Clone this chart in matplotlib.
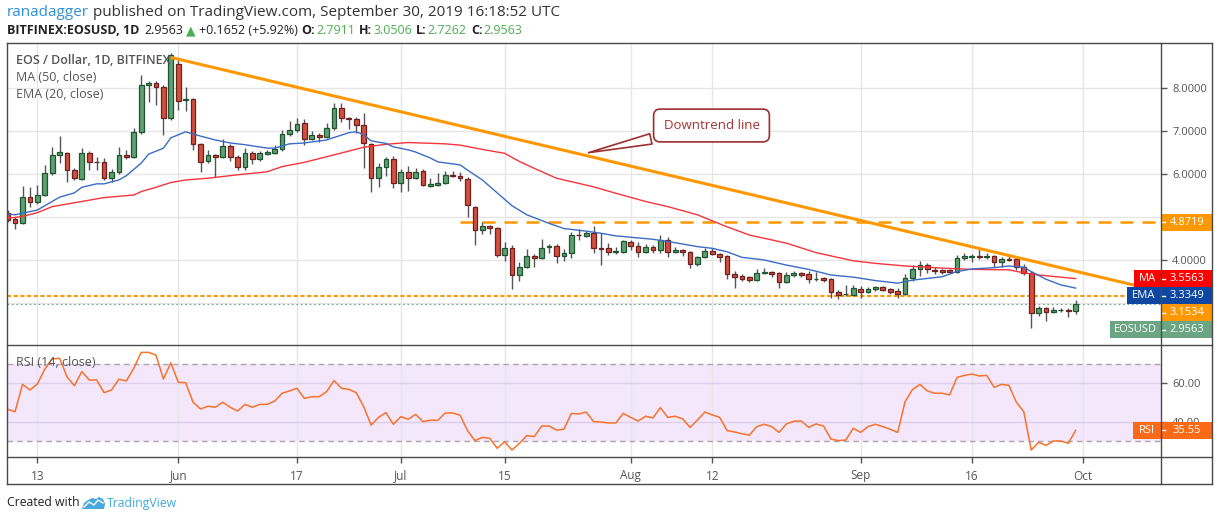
import matplotlib
matplotlib.use("Agg")
import matplotlib.pyplot as plt
import matplotlib.dates as mdates
import matplotlib.patches as patches
import matplotlib.transforms as mtransforms
from matplotlib.lines import Line2D
import numpy as np
import pandas as pd

plt.rcParams['font.family'] = ['Open Sans', 'DejaVu Sans']

W, H = 1218, 521

# --------------------------------------------------------------
# 1. Data (BITFINEX:EOSUSD, daily)
# --------------------------------------------------------------
dates = pd.date_range("2019-05-09", "2019-09-30", freq="D")

opens = [5.08, 4.94, 4.85, 5.45, 5.34, 5.50, 6.01, 6.43, 6.48, 6.08,
         5.87, 6.48, 6.27, 6.27, 5.90, 6.04, 6.43, 6.38, 6.97, 8.06,
         8.10, 8.01, 7.29, 8.55, 7.70, 7.73, 6.69, 6.29, 6.43, 6.38,
         6.64, 6.38, 6.15, 6.48, 6.34, 6.46, 6.48, 6.57, 6.92, 7.01,
         7.17, 6.80, 6.89, 6.85, 7.05, 7.52, 7.29, 7.27, 7.13, 6.69,
         5.90, 6.15, 6.34, 5.78, 6.03, 5.90, 6.06, 5.72, 5.73, 5.78,
         5.96, 5.95, 5.87, 5.22, 4.69, 4.78, 4.73, 4.11, 4.27, 3.64,
         3.83, 4.08, 4.03, 4.29, 4.31, 4.08, 4.15, 4.58, 4.55, 4.62,
         4.27, 4.27, 4.18, 4.18, 4.41, 4.32, 4.17, 4.29, 4.22, 4.45,
         4.18, 4.22, 4.17, 3.89, 4.06, 4.20, 4.13, 4.08, 3.66, 3.62,
         3.59, 3.52, 3.69, 3.71, 3.69, 3.48, 3.64, 3.69, 3.66, 3.54,
         3.57, 3.55, 3.24, 3.19, 3.17, 3.31, 3.24, 3.31, 3.36, 3.31,
         3.27, 3.20, 3.57, 3.78, 3.87, 3.76, 3.75, 3.75, 3.71, 4.03,
         4.07, 4.09, 4.07, 4.08, 3.94, 4.01, 4.01, 3.83, 3.69, 2.75,
         2.87, 2.78, 2.82, 2.83, 2.7911]

highs = [5.15, 4.98, 5.71, 5.69, 5.73, 6.20, 6.62, 6.87, 6.50, 6.12,
         6.59, 6.52, 6.38, 6.36, 6.10, 6.62, 6.55, 7.06, 8.29, 8.15,
         8.14, 8.05, 8.80, 8.64, 8.01, 7.75, 6.72, 6.55, 6.46, 6.80,
         6.68, 6.42, 6.59, 6.53, 6.53, 6.55, 6.66, 7.01, 7.22, 7.29,
         7.27, 6.99, 6.95, 7.18, 7.64, 7.64, 7.31, 7.31, 7.40, 6.72,
         6.24, 6.38, 6.41, 6.10, 6.17, 6.13, 6.10, 5.89, 6.01, 6.06,
         6.06, 6.03, 5.92, 5.25, 4.87, 4.80, 4.75, 4.41, 4.34, 3.94,
         4.24, 4.13, 4.48, 4.36, 4.37, 4.24, 4.64, 4.71, 4.66, 4.78,
         4.62, 4.38, 4.30, 4.45, 4.45, 4.40, 4.36, 4.33, 4.57, 4.52,
         4.29, 4.25, 4.20, 4.08, 4.27, 4.27, 4.15, 4.10, 3.73, 3.66,
         3.62, 3.78, 3.80, 3.73, 3.71, 3.71, 3.73, 3.70, 3.73, 3.71,
         3.59, 3.57, 3.29, 3.41, 3.41, 3.38, 3.36, 3.38, 3.38, 3.33,
         3.33, 3.66, 3.87, 3.96, 3.91, 3.83, 3.79, 3.77, 4.10, 4.15,
         4.13, 4.24, 4.16, 4.10, 4.05, 4.08, 4.04, 3.90, 3.73, 2.92,
         2.89, 2.89, 2.88, 2.87, 3.0506]

lows = [4.88, 4.71, 4.82, 5.22, 5.30, 5.47, 5.97, 6.24, 5.80, 5.85,
        5.84, 6.08, 6.08, 5.86, 5.80, 6.00, 6.33, 6.35, 6.92, 7.66,
        7.59, 6.90, 7.24, 7.48, 7.45, 6.55, 6.04, 6.25, 5.92, 6.35,
        6.30, 6.08, 6.08, 6.22, 6.30, 6.42, 6.45, 6.53, 6.88, 6.97,
        6.66, 6.78, 6.73, 6.82, 7.02, 7.20, 7.04, 6.94, 6.13, 5.57,
        5.69, 5.94, 5.66, 5.57, 5.59, 5.87, 5.70, 5.68, 5.70, 5.75,
        5.92, 5.83, 4.99, 4.34, 4.59, 4.59, 4.06, 3.97, 3.31, 3.50,
        3.80, 3.83, 4.01, 4.15, 3.92, 3.97, 4.03, 4.45, 4.52, 4.15,
        3.87, 4.10, 4.12, 4.15, 4.22, 4.06, 4.15, 4.15, 4.15, 4.06,
        4.15, 4.08, 3.80, 3.85, 4.04, 4.10, 3.94, 3.55, 3.33, 3.50,
        3.48, 3.50, 3.66, 3.59, 3.34, 3.45, 3.60, 3.60, 3.45, 3.50,
        3.48, 3.10, 3.08, 3.15, 3.16, 3.10, 3.22, 3.27, 3.27, 3.20,
        3.10, 3.18, 3.50, 3.62, 3.69, 3.66, 3.67, 3.69, 3.69, 3.98,
        3.94, 4.02, 4.02, 3.83, 3.83, 3.96, 3.76, 3.64, 2.41, 2.68,
        2.57, 2.76, 2.78, 2.66, 2.7262]

closes = [4.92, 4.85, 5.45, 5.34, 5.50, 6.01, 6.43, 6.50, 6.08, 5.90,
          6.48, 6.27, 6.26, 5.90, 6.04, 6.43, 6.38, 6.97, 8.06, 8.10,
          8.01, 7.29, 8.76, 7.69, 7.73, 6.69, 6.27, 6.43, 6.38, 6.64,
          6.38, 6.15, 6.48, 6.34, 6.48, 6.49, 6.57, 6.92, 7.01, 7.15,
          6.80, 6.89, 6.85, 7.05, 7.52, 7.29, 7.27, 7.13, 6.71, 5.90,
          6.15, 6.34, 5.78, 6.03, 5.90, 6.03, 5.73, 5.76, 5.78, 5.97,
          5.95, 5.90, 5.27, 4.69, 4.78, 4.73, 4.11, 4.27, 3.64, 3.83,
          4.08, 4.03, 4.27, 4.31, 4.08, 4.15, 4.57, 4.56, 4.62, 4.26,
          4.25, 4.18, 4.20, 4.43, 4.32, 4.17, 4.29, 4.22, 4.45, 4.18,
          4.22, 4.17, 3.89, 4.06, 4.20, 4.13, 4.06, 3.66, 3.59, 3.55,
          3.52, 3.69, 3.71, 3.66, 3.48, 3.64, 3.68, 3.64, 3.55, 3.55,
          3.52, 3.24, 3.17, 3.20, 3.34, 3.24, 3.31, 3.36, 3.29, 3.24,
          3.20, 3.57, 3.78, 3.87, 3.78, 3.73, 3.71, 3.71, 4.03, 4.08,
          4.08, 4.07, 4.09, 3.94, 4.01, 3.99, 3.83, 3.69, 2.75, 2.87,
          2.78, 2.83, 2.83, 2.7911, 2.9563]

# MA(50) and EMA(20) read at points along the lines (days after May 9)
ma_days = [0, 2, 4, 6, 9, 11, 13, 17, 18, 20, 22, 24, 27, 31, 35, 37, 40, 43,
           48, 51, 54, 59, 61, 64, 67, 69, 71, 74, 77, 79, 82, 86, 89, 93, 97,
           100, 105, 109, 114, 117, 121, 126, 130, 135, 137, 139, 144]
ma_vals = [4.96, 5.00, 5.09, 5.23, 5.32, 5.38, 5.44, 5.50, 5.58, 5.68, 5.79,
           5.85, 5.89, 5.97, 6.04, 6.16, 6.26, 6.39, 6.61, 6.68, 6.72, 6.69,
           6.66, 6.56, 6.47, 6.28, 6.12, 5.89, 5.77, 5.69, 5.54, 5.35, 5.23,
           5.04, 4.76, 4.57, 4.38, 4.16, 3.97, 3.91, 3.85, 3.80, 3.77, 3.76,
           3.69, 3.64, 3.5563]

ema_days = [0, 1, 4, 5, 7, 9, 10, 12, 13, 15, 16, 18, 19, 21, 22, 24, 26, 28,
            30, 32, 35, 36, 38, 40, 43, 46, 47, 48, 49, 51, 52, 54, 55, 57, 58,
            61, 62, 64, 66, 68, 70, 73, 75, 78, 80, 82, 87, 89, 93, 95, 97, 99,
            102, 105, 108, 111, 114, 117, 120, 122, 126, 128, 130, 133, 135,
            137, 138, 140, 142, 144]
ema_vals = [5.06, 5.04, 5.15, 5.25, 5.45, 5.55, 5.68, 5.76, 5.76, 5.85, 5.95,
            6.24, 6.45, 6.59, 6.83, 6.97, 6.87, 6.78, 6.71, 6.67, 6.59, 6.59,
            6.69, 6.71, 6.78, 6.95, 6.97, 6.90, 6.76, 6.70, 6.62, 6.55, 6.50,
            6.36, 6.27, 6.20, 6.08, 5.85, 5.55, 5.25, 5.04, 4.84, 4.72, 4.66,
            4.61, 4.55, 4.47, 4.42, 4.30, 4.26, 4.18, 4.05, 3.99, 3.87, 3.77,
            3.64, 3.59, 3.51, 3.45, 3.52, 3.60, 3.72, 3.78, 3.81, 3.85, 3.82,
            3.72, 3.54, 3.41, 3.3349]

rsi = [46.5, 45.3, 59.5, 56.6, 59.7, 67.4, 72.8, 73.1, 63.5, 58.8,
       66.2, 61.8, 61.8, 55.2, 56.6, 62.2, 61.3, 67.9, 76.2, 76.2,
       74.8, 62.3, 70.8, 60.6, 60.4, 50.2, 46.7, 48.1, 47.6, 50.2,
       47.6, 45.6, 49.1, 47.6, 49.1, 49.1, 50.8, 54.9, 56.1, 57.5,
       52.2, 53.1, 53.1, 55.7, 61.5, 57.5, 56.9, 55.2, 47.9, 38.3,
       42.3, 44.8, 38.7, 42.7, 41.3, 43.9, 40.1, 40.8, 40.8, 44.6,
       44.6, 43.4, 35.4, 30.2, 31.9, 31.4, 26.2, 29.6, 25.3, 28.8,
       32.8, 32.3, 37.8, 37.8, 35.7, 36.1, 44.4, 44.1, 45.1, 40.1,
       39.9, 39.4, 39.4, 44.4, 42.3, 40.4, 42.9, 42.0, 47.4, 42.3,
       42.9, 41.6, 37.1, 40.9, 45.1, 43.6, 42.3, 35.4, 34.7, 33.8,
       33.0, 37.5, 38.7, 37.5, 34.5, 38.9, 40.3, 40.4, 37.1, 38.9,
       37.8, 31.0, 30.2, 30.5, 36.6, 34.5, 37.5, 38.7, 37.5, 36.1,
       34.5, 50.5, 56.9, 59.5, 56.1, 54.9, 54.9, 54.0, 63.2, 64.2,
       64.9, 63.9, 64.2, 58.0, 59.5, 59.0, 50.2, 45.3, 25.3, 29.3,
       27.7, 30.0, 30.0, 28.8, 35.55]

trend_dates = ["2019-05-31", "2019-10-08"]
trend_prices = [8.70, 3.40]
resist_level = 4.8719
resist_from = "2019-07-09"
support_level = 3.1534
last_price = 2.9563
last_ma = 3.5563
last_ema = 3.3349
last_rsi = 35.55

tick_dates = ["2019-05-13", "2019-06-01", "2019-06-17", "2019-07-01", "2019-07-15",
              "2019-08-01", "2019-08-12", "2019-09-01", "2019-09-16", "2019-10-01"]
tick_labels = ["13", "Jun", "17", "Jul", "15", "Aug", "12", "Sep", "16", "Oct"]

# --------------------------------------------------------------
# 2. Figure layout (pixel helpers)
# --------------------------------------------------------------
def fx(px):
    return px / W


def fy(py):
    return 1 - py / H


fig = plt.figure(figsize=(W / 100, H / 100), dpi=100)
fig.patch.set_facecolor("white")

ax_p = fig.add_axes([fx(7), fy(345.3), fx(1161) - fx(7), fy(43) - fy(345.3)])
ax_r = fig.add_axes([fx(7), fy(457), fx(1161) - fx(7), fy(345.3) - fy(457)], sharex=ax_p)

x = mdates.date2num(dates)
xlim = (x[0] - 0.09, x[0] + 155.5)
tick_x = mdates.date2num(pd.to_datetime(tick_dates))

# --------------------------------------------------------------
# 3. Price panel
# --------------------------------------------------------------
o = np.array(opens)
hi = np.array(highs)
lo = np.array(lows)
c = np.array(closes)
up = c >= o
body_lo = np.minimum(o, c)
body_h = np.maximum(np.abs(c - o), 0.012)

ax_p.vlines(x, lo, hi, colors="#555555", lw=1, zorder=3)
ax_p.bar(x, body_h, bottom=body_lo, width=0.64,
         color=np.where(up, "#5f9f70", "#d24f3c"),
         edgecolor=np.where(up, "#1f5432", "#6e1f1f"),
         linewidth=0.9, zorder=4)

ax_p.plot(x[0] + np.array(ma_days), ma_vals, color="#f5353b", lw=1.0, zorder=5)
ax_p.plot(x[0] + np.array(ema_days), ema_vals, color="#3b6cc4", lw=1.0, zorder=5)

ax_p.plot(mdates.date2num(pd.to_datetime(trend_dates)), trend_prices,
          color="#ff9800", lw=2.2, solid_capstyle="butt", zorder=6)
ax_p.plot([mdates.date2num(pd.Timestamp(resist_from)), xlim[1] - 0.4],
          [resist_level, resist_level], color="#ff9800", lw=1.8,
          ls=(0, (5.2, 3.6)), zorder=2)
ax_p.axhline(support_level, color="#ff9800", lw=1.5, ls=(0, (2, 1.2)), zorder=2)
ax_p.axhline(last_price, color="#6ba583", lw=0.8, ls=(0, (1.5, 2.5)), zorder=2)

ax_p.set_xlim(xlim)
ax_p.set_ylim(2.005, 9.035)
ax_p.yaxis.tick_right()
ax_p.set_yticks([3, 4, 5, 6, 7, 8])
ax_p.set_yticklabels(["", "4.0000", "", "6.0000", "7.0000", "8.0000"])
ax_p.tick_params(axis="y", length=4, width=1, color="#555555",
                 labelsize=8, labelcolor="#555555", pad=4)
ax_p.set_xticks(tick_x)
ax_p.tick_params(axis="x", length=0, labelbottom=False)
ax_p.grid(True, color="#e6e6e6", lw=1)
ax_p.set_axisbelow(True)
for s in ax_p.spines.values():
    s.set_visible(False)

# callout
ax_p.annotate("Downtrend line", xy=(585.7, H - 153.3), xycoords="figure pixels",
              xytext=(711.5, H - 125.5), textcoords="figure pixels",
              ha="center", va="center", fontsize=9.5, color="#a83232",
              bbox=dict(boxstyle="round,pad=0.75,rounding_size=0.5",
                        fc="white", ec="#9c2f2f", lw=1.2),
              arrowprops=dict(arrowstyle="wedge,tail_width=0.8,shrink_factor=0.5",
                              fc="white", ec="#9c2f2f", lw=1.2),
              zorder=8)

# --------------------------------------------------------------
# 4. RSI panel
# --------------------------------------------------------------
ax_r.axhspan(30, 70, color="#f4e7fc", lw=0, zorder=0)
ax_r.axhline(70, color="#a8a2ae", lw=1, ls=(0, (4, 3)), zorder=1)
ax_r.axhline(30, color="#a8a2ae", lw=1, ls=(0, (4, 3)), zorder=1)
ax_r.plot(x, rsi, color="#f7722a", lw=1.1, zorder=3)
ax_r.set_ylim(21.65, 79.9)
ax_r.yaxis.tick_right()
ax_r.set_yticks([40, 60])
ax_r.set_yticklabels(["40.00", "60.00"])
ax_r.tick_params(axis="y", length=4, width=1, color="#555555",
                 labelsize=8, labelcolor="#555555", pad=4)
ax_r.set_xticks(tick_x)
ax_r.set_xticklabels(tick_labels)
ax_r.tick_params(axis="x", length=4, width=1, color="#555555",
                 labelsize=8.5, labelcolor="#555555", pad=5)
ax_r.xaxis.grid(True, color="#e6e6e6", lw=1)
ax_r.yaxis.grid(True, color="#dccfea", lw=1)
ax_r.set_axisbelow(True)
for s in ax_r.spines.values():
    s.set_visible(False)

# --------------------------------------------------------------
# 5. Frame lines
# --------------------------------------------------------------
frame = "#4a4a4a"
for (xa, xb, ya, yb) in [(7, 1212, 43, 43), (7, 1212, 484, 484), (7, 7, 43, 484),
                         (1212, 1212, 43, 484), (7, 1212, 345.3, 345.3),
                         (7, 1212, 457, 457), (1161, 1161, 43, 484)]:
    fig.add_artist(Line2D([fx(xa), fx(xb)], [fy(ya), fy(yb)],
                          transform=fig.transFigure, color=frame, lw=1))


# --------------------------------------------------------------
# 6. Price-scale labels
# --------------------------------------------------------------
def right_box(ax, yc, hh, text, color, tag=None, tag_left=None):
    tr = mtransforms.blended_transform_factory(fig.transFigure, ax.transData)
    ax.add_patch(patches.Rectangle((fx(1161), yc - hh / 2), fx(1212) - fx(1161), hh,
                                   transform=tr, facecolor=color, edgecolor="none",
                                   clip_on=False, zorder=10))
    ax.text(fx(1187), yc, text, transform=tr, ha="center", va="center",
            color="white", fontsize=8, zorder=11, clip_on=False)
    ax.add_line(Line2D([fx(1161), fx(1165)], [yc, yc], transform=tr,
                       color="white", lw=1, zorder=11, clip_on=False))
    if tag:
        ax.add_patch(patches.Rectangle((fx(tag_left), yc - hh / 2),
                                       fx(1161) - fx(tag_left), hh, transform=tr,
                                       facecolor=color, edgecolor="none",
                                       clip_on=False, zorder=10))
        ax.text((fx(tag_left) + fx(1161)) / 2, yc, tag, transform=tr,
                ha="center", va="center", color="white", fontsize=8,
                zorder=11, clip_on=False)


lab_h = 17 / 43.0
ma_y = last_ma
ema_y = min(last_ema, ma_y - lab_h)
sup_y = min(support_level, ema_y - lab_h)
cur_y = min(last_price, sup_y - lab_h)

right_box(ax_p, resist_level, lab_h, f"{resist_level:.4f}", "#ff9800")
right_box(ax_p, ma_y, lab_h, f"{last_ma:.4f}", "#ff0000", "MA", 1134)
right_box(ax_p, ema_y, lab_h, f"{last_ema:.4f}", "#0d47a1", "EMA", 1127)
right_box(ax_p, sup_y, lab_h, f"{support_level:.4f}", "#ff9800")
right_box(ax_p, cur_y, lab_h, f"{last_price:.4f}", "#6ba583", "EOSUSD", 1110)
right_box(ax_r, last_rsi, 17.3 / 1.9175, f"{last_rsi:.2f}", "#fb6a17", "RSI", 1133)

# --------------------------------------------------------------
# 7. Texts
# --------------------------------------------------------------
fig.text(fx(16), fy(61), "EOS / Dollar, 1D, BITFINEX", fontsize=9,
         color="#555555", fontweight="semibold", va="center")
fig.text(fx(16), fy(78), "MA (50, close)", fontsize=9, color="#555555", va="center")
fig.text(fx(16), fy(95), "EMA (20, close)", fontsize=9, color="#555555", va="center")
fig.text(fx(16), fy(362), "RSI (14, close)", fontsize=9, color="#555555", va="center")

renderer = fig.canvas.get_renderer()


def seq_text(x_px, y_px, parts, size):
    xp = x_px
    for txt, color, weight, gap in parts:
        xp += gap
        t = fig.text(fx(xp), fy(y_px), txt, color=color, fontsize=size,
                     fontweight=weight, va="center", ha="left",
                     family=["Open Sans", "DejaVu Sans"])
        xp += t.get_window_extent(renderer).width


green = "#4caf50"
dark = "#222222"
seq_text(7, 12, [("ranadagger", "#2f8fd8", "normal", 0),
                 ("published on TradingView.com, September 30, 2019 16:18:52 UTC",
                  "#333333", "normal", 3.8)], 11)
seq_text(7, 31, [("BITFINEX:EOSUSD, 1D", dark, "bold", 0),
                 ("2.9563", dark, "normal", 5),
                 ("\u25B2", green, "normal", 3),
                 ("+0.1652 (+5.92%)", dark, "normal", 3),
                 ("O:", dark, "bold", 4), ("2.7911", green, "normal", 1),
                 ("H:", dark, "bold", 4), ("3.0506", green, "normal", 1),
                 ("L:", dark, "bold", 4), ("2.7262", green, "normal", 1),
                 ("C:", dark, "bold", 4), ("2.9563", green, "normal", 1)], 9)

fig.text(fx(7), fy(503), "Created with", fontsize=8.8, color="#222222", va="center")
logo = patches.Polygon([(fx(82), fy(509)), (fx(84), fy(503)), (fx(88), fy(500)),
                        (fx(92), fy(498)), (fx(96), fy(499)), (fx(99), fy(497)),
                        (fx(103), fy(499)), (fx(105), fy(504)), (fx(104), fy(509))],
                       closed=True, transform=fig.transFigure, fc="#4aa8e0", ec="none")
fig.add_artist(logo)
fig.add_artist(Line2D([fx(84), fx(89), fx(94), fx(98), fx(103)],
                      [fy(507), fy(502), fy(505), fy(500), fy(503)],
                      transform=fig.transFigure, color="white", lw=1))
fig.text(fx(107), fy(503), "TradingView", fontsize=8.8, color="#3fa9e0", va="center")

fig.savefig("out.png", dpi=100, facecolor="white")
